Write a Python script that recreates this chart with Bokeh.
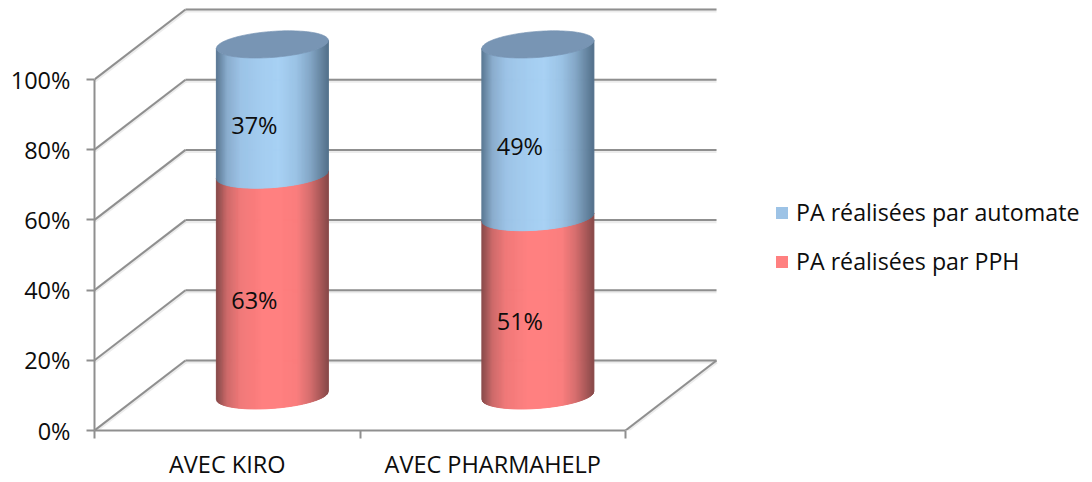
import numpy as np
from bokeh.plotting import figure
from bokeh.embed import file_html
from bokeh.resources import INLINE
from bokeh.core.properties import value
from bokeh.models import FixedTicker, PrintfTickFormatter, Range1d, Legend, LegendItem

categories = ["AVEC KIRO", "AVEC PHARMAHELP"]
series_names = ["PA réalisées par automate", "PA réalisées par PPH"]
pph = [62.9, 50.8]
automate = [37.1, 49.2]
y_ticks = [0, 20, 40, 60, 80, 100]

FONT = "Open Sans"
GRID = "#8f8f8f"
TXT = "#0d0d0d"
W, H = 1092, 482
LEFT, BOTTOM = 94, 52           # frame origin at page x=94, y=430
PX_X = 1 / 265.5                # category units per pixel
PX_Y = 1 / 3.51                 # percent per pixel
DEPTH_X, DEPTH_Y = 91 * PX_X, 70 * PX_Y
HALF_W = 56 * PX_X
ELL_B, TILT = 13 * PX_Y, 4 * PX_Y
BASE = 10.0                      # floor position of the cylinder axis
CENTRE_SHIFT = 0.1700

p = figure(width=W, height=H, output_backend="svg", toolbar_location=None,
           min_border_left=LEFT, min_border_bottom=BOTTOM, min_border_top=0, min_border_right=0,
           x_range=Range1d(0, (W - LEFT) * PX_X), y_range=Range1d(0, (H - BOTTOM) * PX_Y))
p.outline_line_color = None
p.grid.visible = False
p.background_fill_color = "white"

# walls: back-wall horizontals, left-wall diagonals, floor edge
nc = len(categories)
for width, col, alpha, dy in [(4, "#bbbbbb", 0.28, -0.3), (2, GRID, 1, 0)]:
    for t in y_ticks:
        p.line([DEPTH_X, nc + DEPTH_X], [t + DEPTH_Y + dy, t + DEPTH_Y + dy], line_color=col, line_width=width, line_alpha=alpha)
        p.line([0, DEPTH_X], [t + dy, t + DEPTH_Y + dy], line_color=col, line_width=width, line_alpha=alpha)
    p.line([nc, nc + DEPTH_X], [dy, DEPTH_Y + dy], line_color=col, line_width=width, line_alpha=alpha)

# cylinder shading stops: position across the width, colour
POS = [0, .04, .1, .22, .42, .56, .72, .84, .93, 1]
BLUE = [(88, 118, 146), (108, 139, 168), (138, 172, 205), (156, 195, 230), (164, 205, 240),
        (168, 209, 244), (154, 194, 228), (132, 167, 199), (106, 137, 165), (84, 114, 140)]
RED = [(135, 72, 72), (160, 86, 86), (206, 106, 106), (240, 121, 121), (255, 128, 128),
       (255, 128, 128), (250, 126, 126), (214, 110, 110), (172, 90, 90), (136, 74, 74)]
CAP = "#7895B4"


def shade(stops, s):
    a = np.array(stops, float)
    return "#%02x%02x%02x" % tuple(int(round(np.interp(s, POS, a[:, k]))) for k in range(3))


def arc(level, u):
    return level + BASE + TILT * u - ELL_B * np.sqrt(np.clip(1 - u * u, 0, 1))


def body(cx, low, high, stops):
    xs, ys, cols = [], [], []
    edges = np.linspace(-1, 1, 113)
    for u0, u1 in zip(edges[:-1], edges[1:]):
        xs.append([cx + u0 * HALF_W, cx + u1 * HALF_W, cx + u1 * HALF_W, cx + u0 * HALF_W])
        ys.append([arc(low, u0), arc(low, u1), arc(high, u1), arc(high, u0)])
        cols.append(shade(stops, (u0 + u1) / 4 + .5))
    p.patches(xs, ys, fill_color=cols, line_color=cols, line_width=1)


for i in range(nc):
    cx = i + 0.5 + CENTRE_SHIFT
    body(cx, 0, pph[i], RED)
    body(cx, pph[i], pph[i] + automate[i], BLUE)
    th = np.linspace(0, 2 * np.pi, 121)
    top = pph[i] + automate[i] + BASE
    p.patch(cx + HALF_W * np.cos(th), top + TILT * np.cos(th) + ELL_B * np.sin(th),
            fill_color=CAP, line_color=CAP, line_width=0.7)

# data labels
lx, ly, lt = [], [], []
for i in range(nc):
    cx = i + 0.5 + CENTRE_SHIFT
    lx += [cx, cx]
    ly += [pph[i] / 2 + BASE, pph[i] + automate[i] / 2 + BASE]
    lt += [f"{round(pph[i])}%", f"{round(automate[i])}%"]
p.text(lx, ly, text=lt, x_offset=-18, y_offset=15, text_align="center", text_baseline="middle",
       text_font=value(FONT), text_font_size="23.5px", text_color=TXT)

# axes
ax = p.yaxis[0]
ax.ticker = FixedTicker(ticks=y_ticks)
ax.formatter = PrintfTickFormatter(format="%d%%")
ax.bounds = (0, 100)
ax.axis_line_color = GRID
ax.axis_line_width = 2
ax.major_tick_line_color = GRID
ax.major_tick_line_width = 2
ax.major_tick_in = 0
ax.major_tick_out = 8
ax.minor_tick_line_color = None
ax.major_label_standoff = 16
ax.major_label_text_font = FONT
ax.major_label_text_font_size = "23.5px"
ax.major_label_text_color = TXT

bx = p.xaxis[0]
bx.ticker = FixedTicker(ticks=[i + 0.5 for i in range(nc)], minor_ticks=list(range(nc + 1)))
bx.major_label_overrides = {i + 0.5: c for i, c in enumerate(categories)}
bx.bounds = (0, nc)
bx.axis_line_color = GRID
bx.axis_line_width = 2
bx.major_tick_line_color = None
bx.minor_tick_line_color = GRID
bx.minor_tick_line_width = 2
bx.minor_tick_in = 0
bx.minor_tick_out = 8
bx.major_label_standoff = 9
bx.major_label_text_font = FONT
bx.major_label_text_font_size = "23.5px"
bx.major_label_text_color = TXT

# legend
k1 = p.quad(left=[np.nan], right=[np.nan], top=[np.nan], bottom=[np.nan], fill_color="#9DC3E6", line_color=None)
k2 = p.quad(left=[np.nan], right=[np.nan], top=[np.nan], bottom=[np.nan], fill_color="#FF8080", line_color=None)
leg = Legend(items=[LegendItem(label=series_names[0], renderers=[k1]),
                    LegendItem(label=series_names[1], renderers=[k2])],
             location=(680, 153), orientation="vertical", border_line_color=None,
             background_fill_alpha=0, margin=0, padding=0, spacing=17,
             glyph_width=15, glyph_height=15, label_standoff=7,
             label_text_font=FONT, label_text_font_size="23.2px", label_text_color=TXT)
p.add_layout(leg)

open("out.html", "w").write(file_html(p, INLINE))
